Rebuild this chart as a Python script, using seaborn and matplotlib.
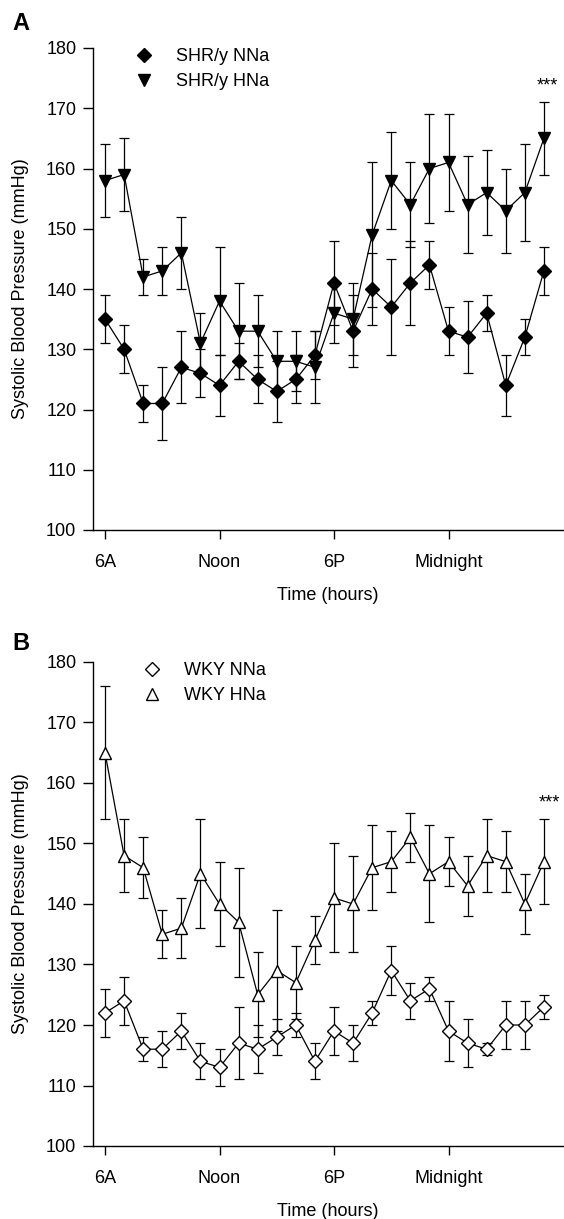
import numpy as np
import pandas as pd
import matplotlib
matplotlib.use("Agg")
import matplotlib.pyplot as plt
import seaborn as sns
from matplotlib.lines import Line2D

# ---------------- data ----------------
hours = list(range(24))
tick_pos = [0, 6, 12, 18]
tick_labels = ["6A", "Noon", "6P", "Midnight"]
y_ticks = [100, 110, 120, 130, 140, 150, 160, 170, 180]

# Panel A
shr_nna = [135, 130, 121, 121, 127, 126, 124, 128, 125, 123, 125, 129,
           141, 133, 140, 137, 141, 144, 133, 132, 136, 124, 132, 143]
shr_nna_err = [4, 4, 3, 6, 6, 4, 5, 3, 4, 5, 4, 4,
               7, 6, 6, 8, 7, 4, 4, 6, 3, 5, 3, 4]
shr_hna = [158, 159, 142, 143, 146, 131, 138, 133, 133, 128, 128, 127,
           136, 135, 149, 158, 154, 160, 161, 154, 156, 153, 156, 165]
shr_hna_err = [6, 6, 3, 4, 6, 5, 9, 8, 6, 5, 5, 6,
               5, 6, 12, 8, 7, 9, 8, 8, 7, 7, 8, 6]

# Panel B
wky_nna = [122, 124, 116, 116, 119, 114, 113, 117, 116, 118, 120, 114,
           119, 117, 122, 129, 124, 126, 119, 117, 116, 120, 120, 123]
wky_nna_err = [4, 4, 2, 3, 3, 3, 3, 6, 4, 3, 2, 3,
               4, 3, 2, 4, 3, 2, 5, 4, 1, 4, 4, 2]
wky_hna = [165, 148, 146, 135, 136, 145, 140, 137, 125, 129, 127, 134,
           141, 140, 146, 147, 151, 145, 147, 143, 148, 147, 140, 147]
wky_hna_err = [11, 6, 5, 4, 5, 9, 7, 9, 7, 10, 6, 4,
               9, 8, 7, 5, 4, 8, 4, 5, 6, 5, 5, 7]

labels_A = ["SHR/y NNa", "SHR/y HNa"]
labels_B = ["WKY NNa", "WKY HNa"]
signif = "***"

# ---------------- style ----------------
sns.set_theme(style="ticks")
plt.rcParams["font.family"] = ["Liberation Sans", "DejaVu Sans"]
plt.rcParams["axes.linewidth"] = 1.0
plt.rcParams["text.color"] = "black"
plt.rcParams["axes.labelcolor"] = "black"
plt.rcParams["xtick.color"] = "black"
plt.rcParams["ytick.color"] = "black"
plt.rcParams["axes.edgecolor"] = "black"

W, H = 564, 1219
fig = plt.figure(figsize=(W / 100, H / 100), dpi=100)

def frac_box(left, top, right, bottom):
    return [left / W, 1 - bottom / H, (right - left) / W, (bottom - top) / H]

axA = fig.add_axes(frac_box(93, 48, 563, 530))
axB = fig.add_axes(frac_box(93, 662, 563, 1146))

FS = 13
MS_D = 7.6
MS_T = 8.9

def draw_series(ax, y, e, marker, ms, face):
    df = pd.DataFrame({"hour": hours, "bp": y})
    ax.errorbar(hours, y, yerr=e, fmt="none", ecolor="black",
                elinewidth=0.9, capsize=3.8, capthick=0.9, zorder=2)
    sns.lineplot(data=df, x="hour", y="bp", ax=ax, color="black",
                 linewidth=0.9, marker=marker, markersize=ms,
                 markerfacecolor=face, markeredgecolor="black",
                 markeredgewidth=1.0, zorder=3, legend=False)

def style_axes(ax):
    ax.set_xlim(-0.63, 24.0)
    ax.set_ylim(100, 180)
    ax.set_yticks(y_ticks)
    ax.set_xticks(tick_pos)
    ax.set_xticklabels(tick_labels)
    ax.tick_params(axis="y", direction="out", length=7, width=1.0,
                   pad=5, labelsize=FS, colors="black")
    ax.tick_params(axis="x", direction="out", length=6.5, width=1.0,
                   pad=11, labelsize=FS, colors="black")
    ax.set_xlabel("Time (hours)", fontsize=FS, labelpad=11, color="black")
    ax.set_ylabel("Systolic Blood Pressure (mmHg)", fontsize=FS,
                  labelpad=12, color="black")
    sns.despine(ax=ax)
    for s in ("left", "bottom"):
        ax.spines[s].set_color("black")

# Panel A
draw_series(axA, shr_nna, shr_nna_err, "D", MS_D, "black")
draw_series(axA, shr_hna, shr_hna_err, "v", MS_T, "black")
style_axes(axA)
hA = [Line2D([], [], linestyle="none", marker="D", markersize=MS_D,
             markerfacecolor="black", markeredgecolor="black"),
      Line2D([], [], linestyle="none", marker="v", markersize=MS_T,
             markerfacecolor="black", markeredgecolor="black")]
legA = axA.legend(hA, labels_A, loc="upper left", bbox_to_anchor=(0.089, 1.0),
                  frameon=False, fontsize=FS, handlelength=1.0,
                  handletextpad=1.3, labelspacing=0.45, borderpad=0,
                  borderaxespad=0)
for t in legA.get_texts():
    t.set_color("black")
axA.text(23.2, shr_hna[-1] + shr_hna_err[-1] + 2, signif, ha="center",
         va="baseline", fontsize=FS, color="black")

# Panel B
draw_series(axB, wky_nna, wky_nna_err, "D", MS_D, "white")
draw_series(axB, wky_hna, wky_hna_err, "^", MS_T, "white")
style_axes(axB)
hB = [Line2D([], [], linestyle="none", marker="D", markersize=MS_D,
             markerfacecolor="white", markeredgecolor="black"),
      Line2D([], [], linestyle="none", marker="^", markersize=MS_T,
             markerfacecolor="white", markeredgecolor="black")]
legB = axB.legend(hB, labels_B, loc="upper left", bbox_to_anchor=(0.106, 1.0),
                  frameon=False, fontsize=FS, handlelength=1.0,
                  handletextpad=1.3, labelspacing=0.45, borderpad=0,
                  borderaxespad=0)
for t in legB.get_texts():
    t.set_color("black")
axB.text(23.3, wky_hna[-1] + wky_hna_err[-1] + 2, signif, ha="center",
         va="baseline", fontsize=FS, color="black")

fig.text(12 / W, 1 - 23 / H, "A", fontsize=17, fontweight="bold",
         ha="left", va="center", color="black")
fig.text(12 / W, 1 - 644 / H, "B", fontsize=17, fontweight="bold",
         ha="left", va="center", color="black")

fig.savefig("out.png", dpi=100, facecolor="white")
